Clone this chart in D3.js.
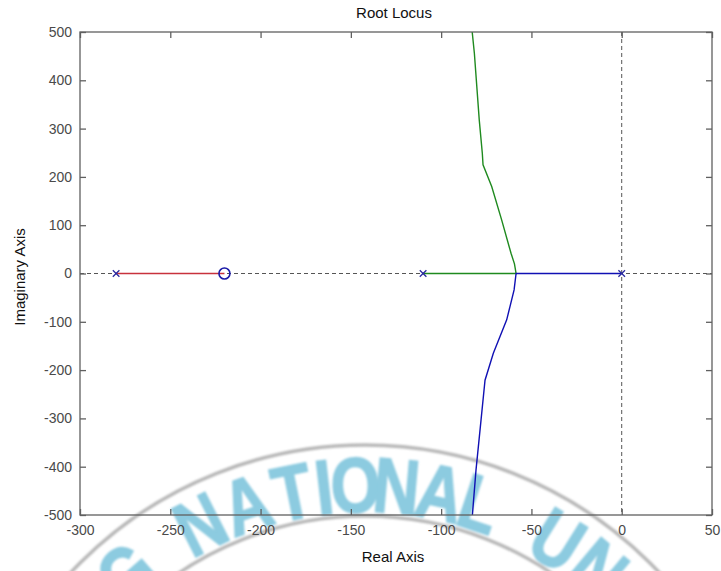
<!DOCTYPE html>
<html><head><meta charset="utf-8">
<script src="https://cdn.jsdelivr.net/npm/d3@7"></script>
<style>body{margin:0;background:#fff} svg{display:block}</style>
</head><body><script>
// Axis ticks
const xTicks = [-300, -250, -200, -150, -100, -50, 0, 50];
const yTicks = [-500, -400, -300, -200, -100, 0, 100, 200, 300, 400, 500];

// Open-loop poles and zeros
const poles = [-280, -110, 0];
const zeros = [-220];

// Locus branches as [real, imag]
const branchRed = [[-280, 0], [-220, 0]];
const branchGreen = [[-110, 0], [-58.5, 0], [-59.4, 20], [-61.3, 42], [-66.5, 111], [-72.0, 180], [-76.8, 225],
  [-77.2, 249], [-78.9, 318], [-81.6, 456], [-82.8, 500]];
const branchBlue = [[0, 0], [-58.5, 0], [-59.6, -34], [-63.7, -96], [-71.1, -165], [-75.7, -221],
  [-77.9, -303], [-80.7, -407], [-82.7, -500]];

// Seal letters around the ring, with their angle in degrees
const sealLetters = ["G", "N", "A", "T", "I", "O", "N", "A", "L", "U", "N", "I"];
const sealAngles = [-41, -27, -19, -11.5, -6.5, -1.5, 5, 12, 18.5, 32, 40, 47];

const W = 721, H = 571;
const m = {left: 80, right: 712, top: 32, bottom: 515};
const font = "'Liberation Sans', Arial, sans-serif";

const svg = d3.select("body").append("svg").attr("width", W).attr("height", H);
const defs = svg.append("defs");
defs.append("filter").attr("id", "soft").append("feGaussianBlur").attr("stdDeviation", 0.9);
defs.append("clipPath").attr("id", "plot").append("rect")
  .attr("x", m.left).attr("y", m.top).attr("width", m.right - m.left).attr("height", m.bottom - m.top);

const x = d3.scaleLinear().domain([-300, 50]).range([m.left, m.right]);
const y = d3.scaleLinear().domain([-500, 500]).range([m.bottom, m.top]);

// Seal ring (drawn beneath the plot)
const seal = svg.append("g").attr("filter", "url(#soft)");
const sc = {x: 365, y: 848};
[403, 332].forEach(r => seal.append("circle").attr("cx", sc.x).attr("cy", sc.y).attr("r", r)
  .attr("fill", "none").attr("stroke", "#b8b8b8").attr("stroke-width", 3.5));
seal.selectAll("g.letter").data(sealLetters).join("g").attr("class", "letter")
  .attr("transform", (d, i) => `translate(${sc.x},${sc.y}) rotate(${sealAngles[i]}) translate(0,-336) scale(0.82,1)`)
  .append("text").attr("text-anchor", "middle").attr("font-family", font).attr("font-weight", "bold")
  .attr("font-size", 78).attr("fill", "#8ccbe0").attr("stroke", "#8ccbe0").attr("stroke-width", 1.6)
  .text(d => d);

// Reference lines through origin
const grid = svg.append("g").attr("stroke", "#555").attr("stroke-width", 1).attr("stroke-dasharray", "4,3");
grid.append("line").attr("x1", m.left).attr("x2", m.right).attr("y1", y(0)).attr("y2", y(0));
grid.append("line").attr("x1", x(0)).attr("x2", x(0)).attr("y1", m.top).attr("y2", m.bottom);

// Branches
const line = d3.line().x(d => x(d[0])).y(d => y(d[1]));
const plot = svg.append("g").attr("clip-path", "url(#plot)");
[[branchRed, "#c8323c"], [branchGreen, "#1f8a1f"], [branchBlue, "#1010b4"]].forEach(([data, c]) =>
  plot.append("path").datum(data).attr("d", line).attr("fill", "none").attr("stroke", c).attr("stroke-width", 1.4));

// Pole markers
const s = 3.3;
plot.selectAll("path.pole").data(poles).join("path").attr("class", "pole")
  .attr("d", d => `M${x(d) - s},${y(0) - s}L${x(d) + s},${y(0) + s}M${x(d) - s},${y(0) + s}L${x(d) + s},${y(0) - s}`)
  .attr("stroke", "#2a2aa0").attr("stroke-width", 1.3);
// Zero markers
plot.selectAll("circle.zero").data(zeros).join("circle").attr("class", "zero")
  .attr("cx", d => x(d)).attr("cy", y(0)).attr("r", 5.5)
  .attr("fill", "none").attr("stroke", "#1a1aa8").attr("stroke-width", 1.6);

// Axes box and ticks
const axc = "#606060";
const fmt = d => String(d);
const ax = svg.append("g").attr("font-family", font).attr("font-size", 14);
ax.append("rect").attr("x", m.left).attr("y", m.top).attr("width", m.right - m.left).attr("height", m.bottom - m.top)
  .attr("fill", "none").attr("stroke", axc).attr("stroke-width", 1.3);
const axB = ax.append("g").attr("transform", `translate(0,${m.bottom})`)
  .call(d3.axisBottom(x).tickValues(xTicks).tickSizeInner(-6).tickSizeOuter(0).tickPadding(10).tickFormat(fmt));
const axT = ax.append("g").attr("transform", `translate(0,${m.top})`)
  .call(d3.axisTop(x).tickValues(xTicks).tickSizeInner(-6).tickSizeOuter(0).tickFormat(""));
const axL = ax.append("g").attr("transform", `translate(${m.left},0)`)
  .call(d3.axisLeft(y).tickValues(yTicks).tickSizeInner(-6).tickSizeOuter(0).tickPadding(8).tickFormat(fmt));
const axR = ax.append("g").attr("transform", `translate(${m.right},0)`)
  .call(d3.axisRight(y).tickValues(yTicks).tickSizeInner(-6).tickSizeOuter(0).tickFormat(""));
[axB, axT, axL, axR].forEach(g => {
  g.select(".domain").remove();
  g.selectAll(".tick line").attr("stroke", axc).attr("stroke-width", 1.3);
  g.selectAll(".tick text").attr("fill", "#4a4a4a").attr("font-family", font).attr("font-size", 14);
});

// Title and axis labels
svg.append("text").attr("x", (m.left + m.right) / 2 - 2).attr("y", 18).attr("text-anchor", "middle")
  .attr("font-family", font).attr("font-size", 15).attr("fill", "#111").text("Root Locus");
svg.append("text").attr("x", 393).attr("y", 562).attr("text-anchor", "middle")
  .attr("font-family", font).attr("font-size", 15).attr("fill", "#111").text("Real Axis");
svg.append("text").attr("transform", "translate(25,277) rotate(-90)").attr("text-anchor", "middle")
  .attr("font-family", font).attr("font-size", 15).attr("fill", "#111").text("Imaginary Axis");
</script></body></html>
